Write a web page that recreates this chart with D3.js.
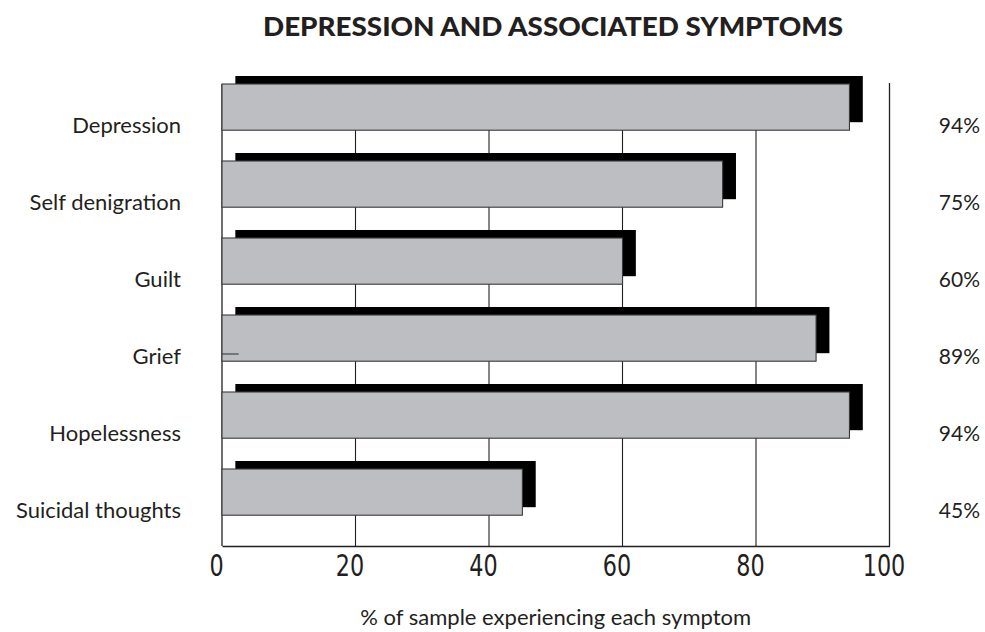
<!DOCTYPE html>
<html>
<head>
<meta charset="utf-8">
<script src="https://cdn.jsdelivr.net/npm/d3@7"></script>
<style>
  html, body { margin: 0; padding: 0; background: #ffffff; }
  svg { display: block; }
  .cat, .pct, .xlabel { font-family: Lato, "Open Sans", sans-serif; fill: #231f20; }
  .title { font-family: Lato, "Open Sans", sans-serif; font-weight: 900; fill: #231f20; }
  .tick text { font-family: "Liberation Sans Narrow", "DejaVu Sans Condensed", sans-serif; fill: #231f20; }
</style>
</head>
<body>
<script>
// Symptom categories and share of the sample reporting each one (%)
const categories = ["Depression", "Self denigration", "Guilt", "Grief", "Hopelessness", "Suicidal thoughts"];
const values = [94, 75, 60, 89, 94, 45];
const tickValues = [0, 20, 40, 60, 80, 100];
const gridValues = [20, 40, 60, 80];
const shadowOffset = 2; // drop shadow shift, in % units

const W = 985, H = 632;
const svg = d3.select("body").append("svg").attr("width", W).attr("height", H);

const x = d3.scaleLinear().domain([0, 100]).range([222, 889.5]);
const y = d3.scaleBand().domain(categories).range([84, 546]).paddingInner(0).paddingOuter(0);
const barH = y.bandwidth() * 0.6;
const plotTop = y.range()[0], plotBottom = y.range()[1];

// Title
svg.append("text").attr("class", "title")
  .attr("x", 263).attr("y", 36)
  .attr("text-anchor", "start")
  .attr("font-size", 26)
  .attr("textLength", 580).attr("lengthAdjust", "spacingAndGlyphs")
  .text("DEPRESSION AND ASSOCIATED SYMPTOMS");

// Vertical gridlines
svg.append("g").selectAll("line").data(gridValues).join("line")
  .attr("x1", d => x(d)).attr("x2", d => x(d))
  .attr("y1", plotTop).attr("y2", plotBottom)
  .attr("stroke", "#231f20").attr("stroke-width", 1.1);

// Left and right frame lines
svg.append("line").attr("x1", x(0)).attr("x2", x(0)).attr("y1", plotTop).attr("y2", plotBottom)
  .attr("stroke", "#231f20").attr("stroke-width", 1.3);
svg.append("line").attr("x1", x(100)).attr("x2", x(100)).attr("y1", plotTop - 1).attr("y2", plotBottom)
  .attr("stroke", "#231f20").attr("stroke-width", 1.3);

// Black drop shadows behind each bar
svg.append("g").selectAll("rect").data(values).join("rect")
  .attr("x", x(shadowOffset))
  .attr("y", (d, i) => y(categories[i]) - 8)
  .attr("width", d => x(d + shadowOffset) - x(shadowOffset))
  .attr("height", barH)
  .attr("fill", "#000000");

// Grey bars
svg.append("g").selectAll("rect").data(values).join("rect")
  .attr("x", x(0))
  .attr("y", (d, i) => y(categories[i]))
  .attr("width", d => x(d) - x(0))
  .attr("height", barH)
  .attr("fill", "#bdbec2")
  .attr("stroke", "#3a3a3c").attr("stroke-width", 1.1);

// Small stroke inside the Grief bar
svg.append("line")
  .attr("x1", x(0)).attr("x2", x(2.5))
  .attr("y1", y("Grief") + 39).attr("y2", y("Grief") + 39)
  .attr("stroke", "#3a3a3c").attr("stroke-width", 1.1);

// Category labels
svg.append("g").selectAll("text").data(categories).join("text")
  .attr("class", "cat")
  .attr("x", 181).attr("y", d => y(d) + y.bandwidth() / 2 + 10)
  .attr("text-anchor", "end").attr("font-size", 22)
  .text(d => d);

// Percentage labels on the right
svg.append("g").selectAll("text").data(values).join("text")
  .attr("class", "pct")
  .attr("x", 980).attr("y", (d, i) => y(categories[i]) + y.bandwidth() / 2 + 10)
  .attr("text-anchor", "end").attr("font-size", 21)
  .text(d => d + "%");

// Bottom axis
const axis = svg.append("g").attr("transform", `translate(0,${plotBottom})`)
  .call(d3.axisBottom(x).tickValues(tickValues).tickSize(0).tickSizeOuter(0).tickPadding(8));
axis.select(".domain").attr("stroke", "#231f20").attr("stroke-width", 1.3);
axis.selectAll(".tick text")
  .attr("font-size", 31).attr("dy", "0.71em")
  .attr("transform", "translate(-6,0) scale(0.8,1)");

// Axis title
svg.append("text").attr("class", "xlabel")
  .attr("x", (x(0) + x(100)) / 2).attr("y", 625)
  .attr("text-anchor", "middle").attr("font-size", 22)
  .text("% of sample experiencing each symptom");
</script>
</body>
</html>
